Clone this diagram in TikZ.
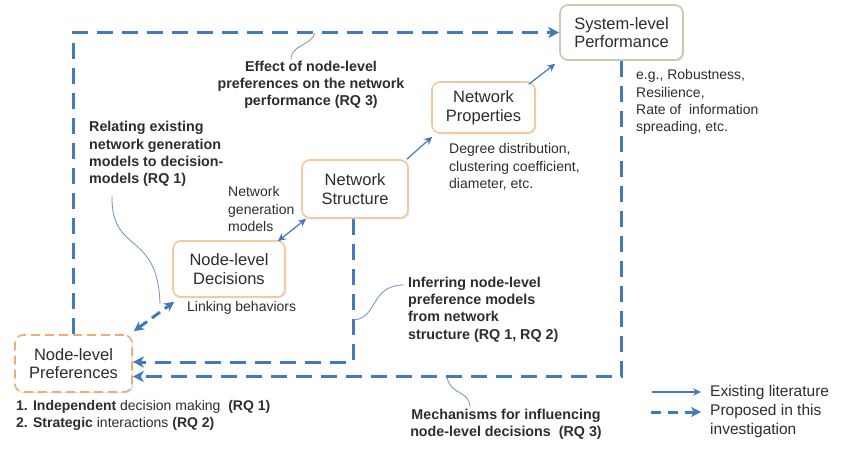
\documentclass[tikz,border=0pt]{standalone}
\usepackage{fontspec}
\setmainfont{Liberation Sans}
\usetikzlibrary{arrows.meta,shadows}
\definecolor{arrowblue}{RGB}{68,121,187}
\definecolor{calloutblue}{RGB}{110,145,190}
\definecolor{boxorange}{RGB}{244,200,160}
\definecolor{dashorange}{RGB}{242,172,112}
\definecolor{sysgreen}{RGB}{196,206,170}
\definecolor{txt}{RGB}{45,45,45}
\begin{document}
\begin{tikzpicture}[x=1pt,y=-1pt,
  box/.style={draw=boxorange, line width=1.6pt, rounded corners=8pt, fill=white,
    align=center, text=txt, font=\fontsize{16.5}{18.5}\selectfont, inner sep=0pt,
    drop shadow={shadow xshift=1.2pt, shadow yshift=-1.2pt, opacity=0.25}},
  note/.style={align=left, text=txt, font=\fontsize{14}{17.2}\selectfont, inner sep=0pt},
  bnote/.style={note, font=\bfseries\fontsize{14.3}{17.3}\selectfont},
  legnote/.style={note, font=\fontsize{15.5}{19}\selectfont},
  solidarrow/.style={draw=arrowblue, line width=1.2pt, -{Stealth[length=8pt,width=7.5pt]}},
  dasharrow/.style={draw=arrowblue, line width=3pt, dash pattern=on 16pt off 9pt,
    line join=miter, -{Stealth[length=11pt,width=11pt,inset=3pt]}},
  callout/.style={draw=calloutblue, line width=0.8pt}
]
\useasboundingbox (0,0) rectangle (849,452);
% boxes
\node[box, draw=dashorange, dash pattern=on 9pt off 5pt, minimum width=117pt, minimum height=57pt] (pref) at (73.5,363.5) {Node-level\\Preferences};
\node[box, minimum width=112pt, minimum height=56pt] (dec) at (229,269) {Node-level\\Decisions};
\node[box, minimum width=106pt, minimum height=58pt] (struct) at (355,189) {Network\\Structure};
\node[box, minimum width=103pt, minimum height=51pt] (props) at (483.5,107.5) {Network\\Properties};
\node[box, draw=sysgreen, minimum width=123pt, minimum height=55pt] (sys) at (621.5,32.5) {System-level\\Performance};

% dashed connectors
\draw[dasharrow] (pref.north) |- (sys.west);
\draw[dasharrow] (sys.south) |- ([yshift=-13pt]pref.east);
\draw[dasharrow] ([xshift=-2pt]struct.south) |- ([yshift=1.5pt]pref.east);
\draw[draw=arrowblue, line width=3pt, dash pattern=on 10pt off 6pt,
  {Stealth[length=10pt,width=10pt,inset=3pt]}-{Stealth[length=10pt,width=10pt,inset=3pt]}]
  ([shift={(1pt,3pt)}]pref.north east) -- ([shift={(2pt,-4pt)}]dec.south west);

% solid connectors
\draw[solidarrow, {Stealth[length=8pt,width=7.5pt]}-{Stealth[length=8pt,width=7.5pt]}]
  ([shift={(-8pt,-1pt)}]dec.north east) -- ([shift={(5pt,0pt)}]struct.south west);
\draw[solidarrow] ([shift={(-2pt,0pt)}]struct.north east) -- ([shift={(1pt,-3pt)}]props.south west);
\draw[solidarrow] ([shift={(-7pt,-3pt)}]props.north east) -- ([shift={(-4pt,-3pt)}]sys.south west);

% annotations
\node[bnote, align=center] (effect) at (311,85) {Effect of node-level\\preferences on the network\\performance (RQ 3)};
\node[bnote, anchor=west] (relating) at (89,154) {Relating existing\\network generation\\models to decision-\\models (RQ 1)};
\node[note, anchor=west] (netgen) at (228,209) {Network\\generation\\models};
\node[note, anchor=west] (linking) at (187,308) {Linking behaviors};
\node[note, anchor=west] (degree) at (449,167) {Degree distribution,\\clustering coefficient,\\diameter, etc.};
\node[note, anchor=west] (eg) at (636,102) {e.g., Robustness,\\Resilience,\\Rate of~ information\\spreading, etc.};
\node[bnote, anchor=west] (infer) at (408,309.5) {Inferring node-level\\preference models\\from network\\structure (RQ 1, RQ 2)};
\node[bnote, align=center] (mech) at (506,424) {Mechanisms for influencing\\node-level decisions~ (RQ 3)};
\node[note, anchor=west] (list) at (16,415.5) {\textbf{1. Independent} decision making~ \textbf{(RQ 1)}\\\textbf{2. Strategic} interactions \textbf{(RQ 2)}};

% callout curves
\coordinate (c1) at (315,33);
\coordinate (c1e) at (291,59);
\draw[callout] (c1e) .. controls (292,44) and (311,46) .. (c1);
\coordinate (c2) at (112,196);
\coordinate (c2e) at (160,304);
\draw[callout] (c2) .. controls (111,255) and (158,230) .. (c2e);
\coordinate (c3) at (354,320);
\coordinate (c3e) at (404,285);
\draw[callout] (c3) .. controls (378,318) and (370,285) .. (c3e);
\coordinate (c4) at (447,378);
\coordinate (c4e) at (470,407);
\draw[callout] (c4) .. controls (452,396) and (469,390) .. (c4e);

% legend
\coordinate (l1a) at (652,392);
\coordinate (l1b) at (701,392);
\draw[solidarrow] (l1a) -- (l1b);
\node[legnote, anchor=west] (leg1) at (710,392) {Existing literature};
\coordinate (l2a) at (651,412);
\coordinate (l2b) at (701,412);
\draw[draw=arrowblue, line width=3pt, dash pattern=on 10pt off 7pt, -{Stealth[length=10pt,width=10pt,inset=3pt]}] (l2a) -- (l2b);
\node[legnote, anchor=west] (leg2) at (710,421) {Proposed in this\\investigation};
\end{tikzpicture}
\end{document}
